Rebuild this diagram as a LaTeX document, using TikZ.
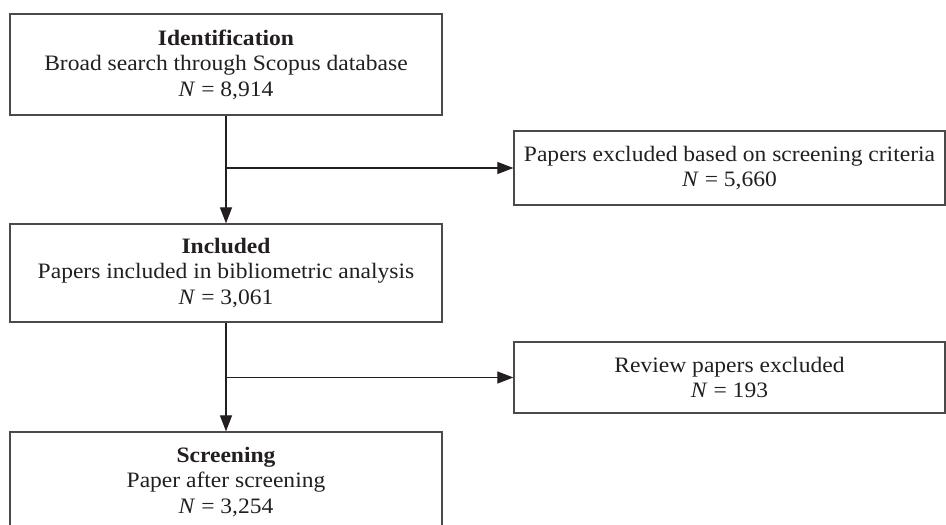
\documentclass[tikz,border=0pt]{standalone}
\usepackage{fontspec}
\setmainfont{Liberation Serif}[FakeStretch=1.07]
\usetikzlibrary{arrows.meta}
\definecolor{ink}{HTML}{231F20}
\definecolor{edge}{HTML}{4A4A4A}
\begin{document}
\begin{tikzpicture}[x=1pt,y=-1pt,
  box/.style={draw=edge,line width=1.3pt,rectangle,inner sep=0pt,align=center,
    text=ink,font=\fontsize{22}{25.5}\selectfont},
  flow/.style={draw=ink,line width=1.2pt,-{Triangle[length=16pt,width=12pt]}}]
\useasboundingbox (0,0) rectangle (946,525);
\clip (0,0) rectangle (946,525);
\fill[white] (0,0) rectangle (946,525);
\node[box,minimum width=432pt,minimum height=101pt] (b1) at (226,64.5)
  {\textbf{Identification}\\Broad search through Scopus database\\\textit{N} = 8,914};
\node[box,minimum width=431pt,minimum height=74pt] (b2) at (729.5,168)
  {Papers excluded based on screening criteria\\\textit{N} = 5,660};
\node[box,minimum width=432pt,minimum height=98pt] (b3) at (226,273)
  {\textbf{Included}\\Papers included in bibliometric analysis\\\textit{N} = 3,061};
\node[box,minimum width=431pt,minimum height=71pt] (b4) at (729.5,377.5)
  {Review papers excluded\\\textit{N} = 193};
\node[box,minimum width=432pt,minimum height=100pt] (b5) at (226,482)
  {\textbf{Screening}\\Paper after screening\\\textit{N} = 3,254};
\coordinate (j1) at (b1.south |- b2.west);
\coordinate (j2) at (b3.south |- b4.west);
\draw[flow] (b1.south) -- (b3.north);
\draw[flow] (j1) -- (b2.west);
\draw[flow] (b3.south) -- (b5.north);
\draw[flow] (j2) -- (b4.west);
\end{tikzpicture}
\end{document}
